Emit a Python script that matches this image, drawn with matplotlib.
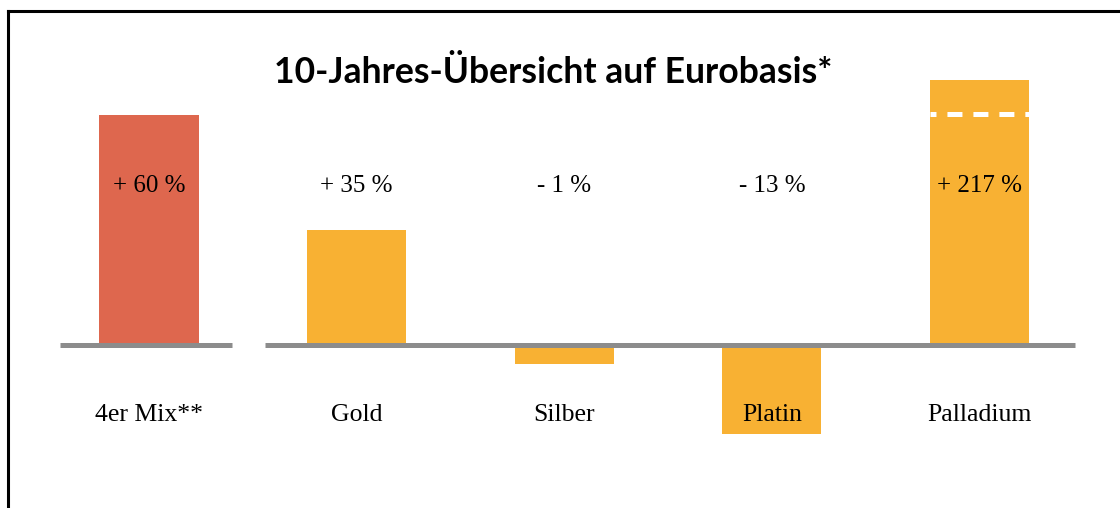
import matplotlib
matplotlib.use("Agg")
import matplotlib.pyplot as plt
from matplotlib.lines import Line2D

# ─── Data ────────────────────────────────────────────────────────────────────
categories = ["4er Mix**", "Gold", "Silber", "Platin", "Palladium"]
value_labels = ["+ 60 %", "+ 35 %", "- 1 %", "- 13 %", "+ 217 %"]
# bar heights as drawn in the picture (not to scale, Palladium is cut)
bar_heights = [60, 30, -4.9, -23.2, 69.1]
bar_colors = ["#DE674E", "#F8B133", "#F8B133", "#F8B133", "#F8B133"]
break_level = 60.3   # white dashed cut line in the Palladium bar
title = "10-Jahres-Übersicht auf Eurobasis*"

# ─── Figure ──────────────────────────────────────────────────────────────────
fig = plt.figure(figsize=(11.2, 5.08), dpi=100)
ax = fig.add_axes([0, 0, 1, 1])
ax.set_xlim(-0.7177, 4.677)
ax.set_ylim(-42.6, 90.0)
ax.axis("off")

x = list(range(len(categories)))
ax.bar(x, bar_heights, width=0.477, color=bar_colors, zorder=2)

# baseline, split after the first bar
ax.hlines(0, -0.43, 0.40, color="#8C8C8C", linewidth=3.6, zorder=3)
ax.hlines(0, 0.56, 4.46, color="#8C8C8C", linewidth=3.6, zorder=3)

# cut marker in the Palladium bar
plt.rcParams["lines.scale_dashes"] = False
ax.plot([x[4] - 0.2385, x[4] + 0.2385], [break_level, break_level],
        color="white", linewidth=3.6, linestyle=(6.5, (10.8, 7.9)),
        solid_capstyle="butt", dash_capstyle="butt", zorder=4)

serif = "Liberation Serif"
for xi, lab in zip(x, value_labels):
    ax.text(xi, 39.9, lab, ha="center", va="baseline",
            fontsize=18, family=serif, color="black", zorder=5)
for xi, cat in zip(x, categories):
    ax.text(xi, -19.9, cat, ha="center", va="baseline",
            fontsize=18.5, family=serif, color="black", zorder=5)

fig.text(0.4935, 1 - 83 / 508, title, ha="center", va="baseline",
         fontsize=25.6, fontweight="bold", family="Lato", color="black")

# frame (only top and left edges visible)
lx = 8.3 / 1120
ty = 1 - 10.8 / 508
fig.add_artist(Line2D([lx, lx], [0, ty], color="black", linewidth=2.2,
                      transform=fig.transFigure, solid_capstyle="projecting"))
fig.add_artist(Line2D([lx, 1], [ty, ty], color="black", linewidth=2.2,
                      transform=fig.transFigure, solid_capstyle="projecting"))

fig.savefig("out.png", dpi=100)
